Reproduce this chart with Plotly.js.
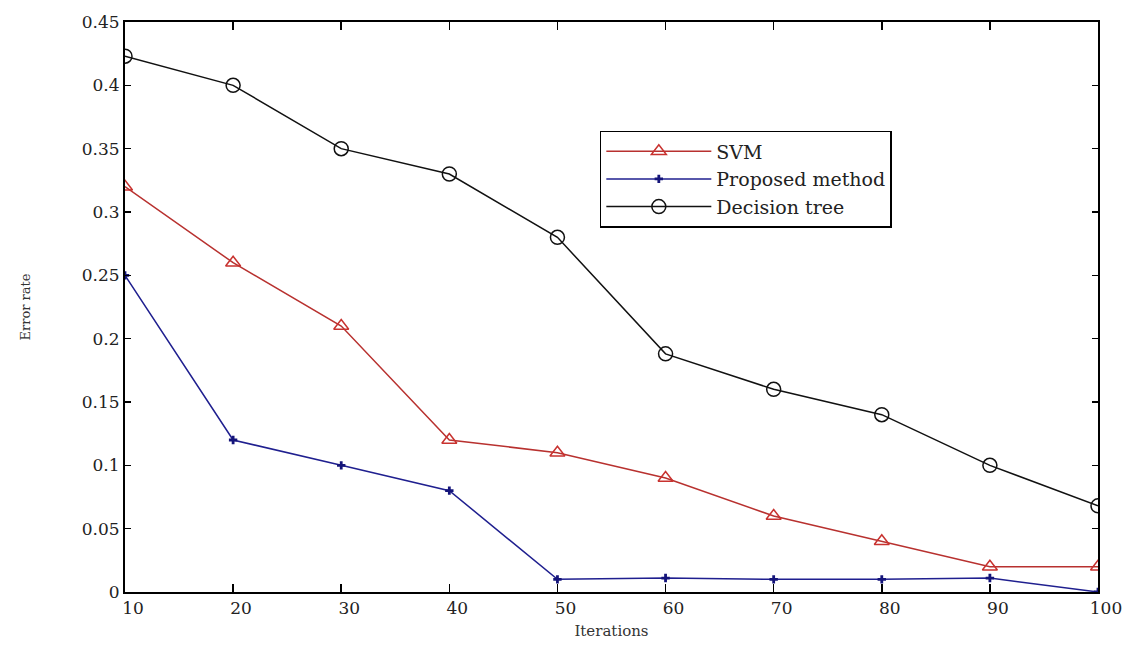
<!DOCTYPE html>
<html>
<head>
<meta charset="utf-8">
<script src="https://cdn.plot.ly/plotly-3.0.1.min.js"></script>
<style>html,body{margin:0;padding:0;background:#fff;}#chart{width:1135px;height:650px;}</style>
</head>
<body>
<div id="chart"></div>
<script>
const iterations = [10, 20, 30, 40, 50, 60, 70, 80, 90, 100];
const svmError = [0.32, 0.26, 0.21, 0.12, 0.11, 0.09, 0.06, 0.04, 0.02, 0.02];
const proposedError = [0.25, 0.12, 0.10, 0.08, 0.01, 0.011, 0.01, 0.01, 0.011, 0.0];
const treeError = [0.423, 0.40, 0.35, 0.33, 0.28, 0.188, 0.16, 0.14, 0.10, 0.068];
const seriesNames = ["SVM", "Proposed method", "Decision tree"];
const xTicks = [10, 20, 30, 40, 50, 60, 70, 80, 90, 100];
const yTicks = [0, 0.05, 0.1, 0.15, 0.2, 0.25, 0.3, 0.35, 0.4, 0.45];

const serif = "DejaVu Serif, Liberation Serif, serif";

const traces = [
  {
    x: iterations, y: svmError, name: seriesNames[0], type: "scatter", mode: "lines+markers",
    line: {color: "#b8312f", width: 1.5},
    marker: {symbol: "triangle-up-open", size: 13, color: "#c8322f", line: {width: 1.5, color: "#c8322f"}}
  },
  {
    x: iterations, y: proposedError, name: seriesNames[1], type: "scatter", mode: "lines+markers",
    line: {color: "#1f1f8f", width: 1.5},
    marker: {symbol: "cross", size: 7, color: "#14147a", line: {width: 0}}
  },
  {
    x: iterations, y: treeError, name: seriesNames[2], type: "scatter", mode: "lines+markers",
    line: {color: "#111", width: 1.5},
    marker: {symbol: "circle-open", size: 14, color: "#111", line: {width: 1.5, color: "#111"}}
  }
];

const layout = {
  width: 1135, height: 650,
  margin: {l: 125, r: 37, t: 22, b: 58},
  paper_bgcolor: "#fff", plot_bgcolor: "#fff",
  showlegend: true,
  legend: {
    x: 0.488, y: 0.809, xanchor: "left", yanchor: "top",
    bordercolor: "#000", borderwidth: 1.5, bgcolor: "#fff",
    font: {family: serif, size: 19, color: "#222"},
    itemwidth: 105, tracegroupgap: 0
  },
  xaxis: {
    range: [10, 100], tickvals: xTicks, ticktext: xTicks.map(String),
    ticks: "inside", ticklen: 8, tickcolor: "#000", tickwidth: 1.5,
    showline: true, linecolor: "#000", linewidth: 2, mirror: "allticks",
    showgrid: false, zeroline: false,
    tickfont: {family: serif, size: 17, color: "#222"},
    ticklabelshift: 8,
    title: {text: "Iterations", font: {family: serif, size: 15, color: "#333"}, standoff: 8}
  },
  yaxis: {
    range: [0, 0.45], tickvals: yTicks, ticktext: yTicks.map(v => String(v)),
    ticks: "inside", ticklen: 6, tickcolor: "#000", tickwidth: 1.5,
    showline: true, linecolor: "#000", linewidth: 2, mirror: "allticks",
    showgrid: false, zeroline: false,
    tickfont: {family: serif, size: 17, color: "#222"},
    title: {text: "Error rate", font: {family: serif, size: 13, color: "#333"}, standoff: 48}
  }
};

Plotly.newPlot("chart", traces, layout, {displayModeBar: false, staticPlot: true});
</script>
</body>
</html>
